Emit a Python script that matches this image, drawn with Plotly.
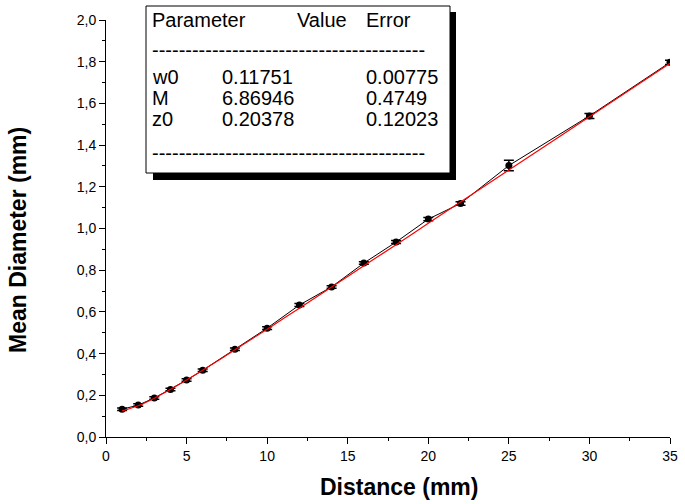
import plotly.graph_objects as go

# Data
distance = [1, 2, 3, 4, 5, 6, 8, 10, 12, 14, 16, 18, 20, 22, 25, 30, 35]
mean_diameter = [0.133, 0.153, 0.187, 0.228, 0.273, 0.320, 0.421, 0.522, 0.633,
                 0.720, 0.834, 0.935, 1.045, 1.120, 1.302, 1.540, 1.797]
diameter_error = [0.006, 0.006, 0.006, 0.006, 0.006, 0.006, 0.006, 0.007, 0.007,
                  0.006, 0.006, 0.007, 0.008, 0.008, 0.025, 0.012, 0.010]
fit_values = [0.125, 0.150, 0.186, 0.228, 0.273, 0.320, 0.418, 0.517, 0.618,
              0.719, 0.821, 0.922, 1.025, 1.127, 1.280, 1.536, 1.793]

y_tickvals = [0.0, 0.2, 0.4, 0.6, 0.8, 1.0, 1.2, 1.4, 1.6, 1.8, 2.0]
y_ticktext = ["0,0", "0,2", "0,4", "0,6", "0,8", "1,0", "1,2", "1,4", "1,6", "1,8", "2,0"]
x_tickvals = [0, 5, 10, 15, 20, 25, 30, 35]

param_names = ["w0", "M", "z0"]
param_values = ["0.11751", "6.86946", "0.20378"]
param_errors = ["0.00775", "0.4749", "0.12023"]

W, H = 685, 504
L, R, T, B = 106, 15, 20, 67
PW, PH = W - L - R, H - T - B


def px(x):
    return (x - L) / PW


def py(y):
    return 1 - (y - T) / PH


FONT = "Liberation Sans, Arial, sans-serif"

fig = go.Figure()
fig.add_trace(go.Scatter(
    x=distance, y=mean_diameter, mode="lines+markers",
    line=dict(color="black", width=1),
    marker=dict(color="black", size=7, symbol="circle"),
    error_y=dict(type="data", array=diameter_error, visible=True,
                 color="black", thickness=1.5, width=5),
    showlegend=False,
))
fig.add_trace(go.Scatter(
    x=distance, y=fit_values, mode="lines",
    line=dict(color="red", width=1.2, shape="spline"),
    showlegend=False,
))

shapes = []
# shadow
shapes.append(dict(type="rect", xref="paper", yref="paper",
                   x0=px(153), x1=px(456), y0=py(180), y1=py(12),
                   fillcolor="black", line=dict(width=0), layer="above"))
# box
shapes.append(dict(type="rect", xref="paper", yref="paper",
                   x0=px(146), x1=px(450), y0=py(173), y1=py(6),
                   fillcolor="white", line=dict(color="black", width=1), layer="above"))

annotations = []


def txt(x, y, s, size=20):
    annotations.append(dict(x=px(x), y=py(y), xref="paper", yref="paper",
                            text=s, showarrow=False, xanchor="left", yanchor="middle",
                            font=dict(family=FONT, size=size, color="black")))


txt(150, 20, "Parameter")
txt(295, 20, "Value")
txt(364, 20, "Error")
dash = "-" * 41
txt(150, 50, dash)
row_y = [77, 98, 119]
for name, val, err, yy in zip(param_names, param_values, param_errors, row_y):
    txt(150, yy, name)
    txt(220, yy, val)
    txt(364, yy, err)
txt(150, 153, dash)

# axis titles
annotations.append(dict(x=px(399), y=py(487), xref="paper", yref="paper",
                        text="<b>Distance (mm)</b>", showarrow=False,
                        xanchor="center", yanchor="middle",
                        font=dict(family=FONT, size=23, color="black")))
annotations.append(dict(x=px(18), y=py(240), xref="paper", yref="paper",
                        text="<b>Mean Diameter (mm)</b>", showarrow=False, textangle=-90,
                        xanchor="center", yanchor="middle",
                        font=dict(family=FONT, size=23, color="black")))

fig.update_layout(
    width=W, height=H,
    margin=dict(l=L, r=R, t=T, b=B, autoexpand=False),
    paper_bgcolor="white", plot_bgcolor="white",
    font=dict(family=FONT, size=14, color="black"),
    shapes=shapes, annotations=annotations,
    xaxis=dict(
        range=[0, 35], tickvals=x_tickvals, ticks="outside", ticklen=6, tickwidth=1,
        tickcolor="black", showline=True, linecolor="black", linewidth=1,
        showgrid=False, zeroline=False, automargin=False,
        minor=dict(dtick=2.5, ticks="outside", ticklen=3, tickcolor="black", showgrid=False),
        tickfont=dict(family=FONT, size=14),
    ),
    yaxis=dict(
        range=[0, 2.0], tickvals=y_tickvals, ticktext=y_ticktext, ticks="outside",
        ticklen=6, tickwidth=1, tickcolor="black", showline=True, linecolor="black",
        linewidth=1, showgrid=False, zeroline=False, automargin=False,
        minor=dict(dtick=0.1, ticks="outside", ticklen=3, tickcolor="black", showgrid=False),
        tickfont=dict(family=FONT, size=14),
    ),
)

fig.write_html("out.html", config={"displayModeBar": False},
               post_script="document.body.style.margin='0';document.body.style.overflow='hidden';")
